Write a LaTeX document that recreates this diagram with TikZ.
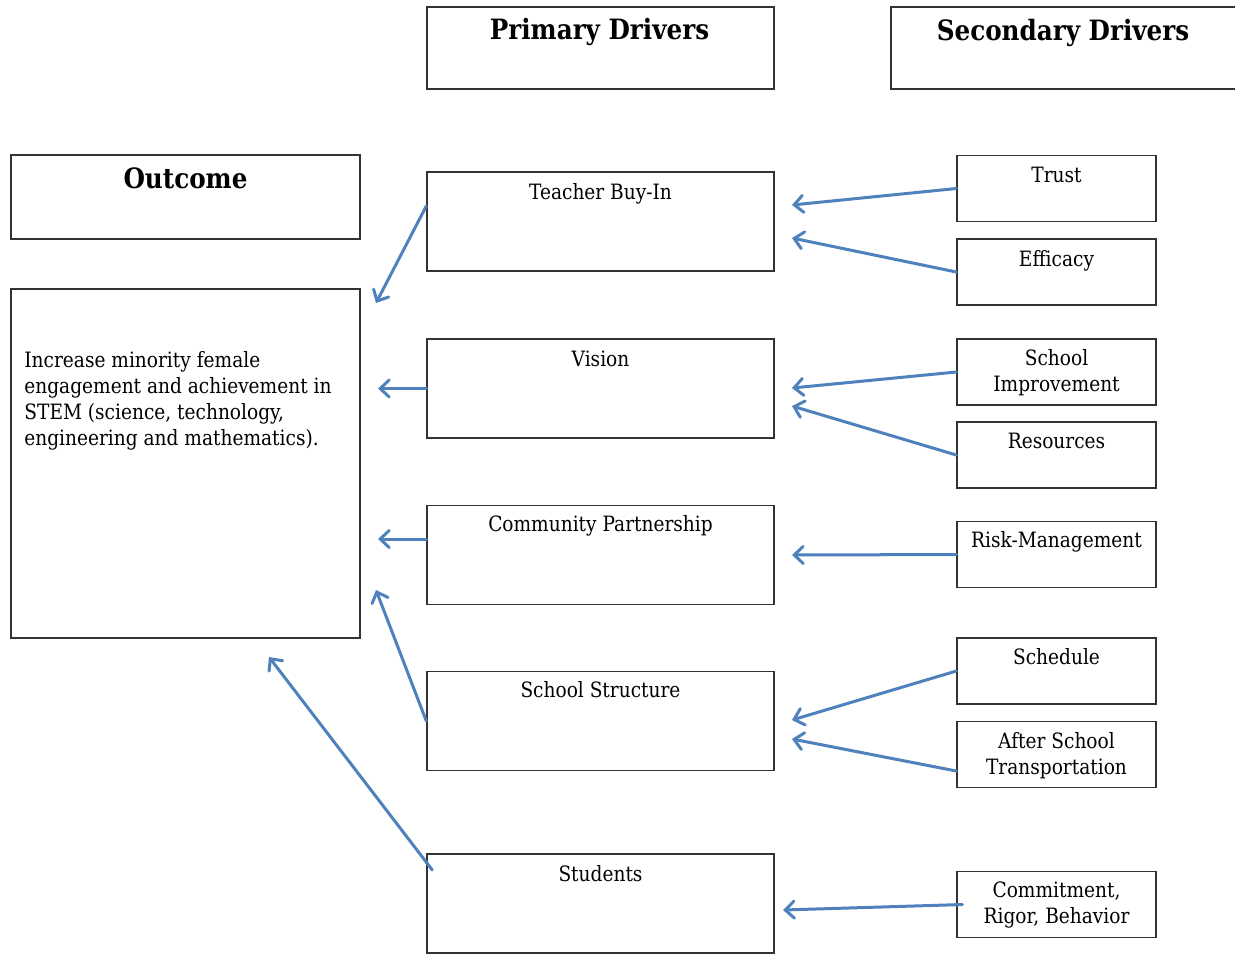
\documentclass[tikz,border=0pt]{standalone}
\usepackage{fontspec}
\setmainfont{DejaVu Serif}[FakeStretch=0.88]
\usetikzlibrary{arrows.meta,calc}
\definecolor{arrowblue}{HTML}{4F81BD}
\definecolor{boxline}{HTML}{333333}
\begin{document}
\begin{tikzpicture}[x=0.5pt,y=-0.5pt,
  box/.style={draw=boxline, line width=0.7pt, inner sep=0pt},
  pbox/.style={box, minimum width=173.5pt, minimum height=49.5pt},
  sbox/.style={box, minimum width=99.5pt, minimum height=33pt},
  txt/.style={inner sep=0pt, align=center, font=\fontsize{10.55}{13}\selectfont},
  head/.style={inner sep=0pt, font=\fontsize{14}{16}\selectfont\bfseries},
  arr/.style={draw=arrowblue, line width=1.5pt, line cap=round, -{Straight Barb[length=4.5pt,width=8.5pt,line cap=round]}}]
\useasboundingbox (0,0) rectangle (1235,955);
% headers
\node[box, minimum width=173.5pt, minimum height=41pt] (ph) at (600.5,48) {};
\node[box, minimum width=174.5pt, minimum height=41pt] (sh) at (1065.5,48) {};
\node[box, minimum width=174.5pt, minimum height=42pt] (oh) at (185.5,197) {};
\node[head, anchor=base] (pht) at ($(ph.north)+(-1,33)$) {Primary Drivers};
\node[head, anchor=base] (sht) at ($(1063,7)+(0,33)$) {Secondary Drivers};
\node[head, anchor=base] (oht) at ($(oh.north)+(0,34)$) {Outcome};
% outcome
\node[box, minimum width=174.5pt, minimum height=174.5pt] (ob) at (185.5,463.5) {};
\node[txt, align=left, anchor=base west] (obt) at (24,445) {Increase minority female\\engagement and achievement in\\STEM (science, technology,\\engineering and mathematics).};
% primary drivers
\node[pbox] (tb) at (600.5,221.5) {};
\node[pbox] (vi) at (600.5,388.5) {};
\node[pbox] (cp) at (600.5,555) {};
\node[pbox] (ss) at (600.5,721) {};
\node[pbox] (st) at (600.5,903.5) {};
\node[txt, anchor=base] at ($(tb.north)+(0,28)$) {Teacher Buy-In};
\node[txt, anchor=base] at ($(vi.north)+(0,28)$) {Vision};
\node[txt, anchor=base] at ($(cp.north)+(0,27)$) {Community Partnership};
\node[txt, anchor=base] at ($(ss.north)+(0,27)$) {School Structure};
\node[txt, anchor=base] at ($(st.north)+(0,28)$) {Students};
% secondary drivers
\node[sbox] (tr) at (1056.5,188.5) {};
\node[sbox] (ef) at (1056.5,272) {};
\node[sbox] (si) at (1056.5,372) {};
\node[sbox] (rs) at (1056.5,455) {};
\node[sbox] (rm) at (1056.5,554.5) {};
\node[sbox] (sc) at (1056.5,671) {};
\node[sbox] (ast) at (1056.5,754.5) {};
\node[sbox] (cr) at (1056.5,904.5) {};
\node[txt, anchor=base] at ($(tr.north)+(0,28)$) {Trust};
\node[txt, anchor=base] at ($(ef.north)+(0,28)$) {Efficacy};
\node[txt, anchor=base] at ($(si.north)+(0,53)$) {School\\Improvement};
\node[txt, anchor=base] at ($(rs.north)+(0,27)$) {Resources};
\node[txt, anchor=base] at ($(rm.north)+(0,27)$) {Risk-Management};
\node[txt, anchor=base] at ($(sc.north)+(0,27)$) {Schedule};
\node[txt, anchor=base] at ($(ast.north)+(0,54)$) {After School\\Transportation};
\node[txt, anchor=base] at ($(cr.north)+(0,53)$) {Commitment,\\Rigor, Behavior};
% arrow ends
\coordinate (e1) at (376,303);
\coordinate (e2) at (378,388.5);
\coordinate (e3) at (378,539);
\coordinate (e4) at (376,590);
\coordinate (e5) at (269,657);
\coordinate (e6) at (792,205);
\coordinate (e7) at (792,238);
\coordinate (e8) at (792,388);
\coordinate (e9) at (792,406);
\coordinate (e10) at (792,555);
\coordinate (e11) at (792,720);
\coordinate (e12) at (792,739);
\coordinate (e13) at (783,910);
% arrows to outcome
\draw[arr] ($(tb.west)+(0,-15.5)$) -- (e1);
\draw[arr] (vi.west) -- (e2);
\draw[arr] ($(cp.west)+(0,-16)$) -- (e3);
\draw[arr] (ss.west) -- (e4);
\draw[arr] ($(st.west)+(6,-33.5)$) -- (e5);
% arrows to primary drivers
\draw[arr] (tr.west) -- (e6);
\draw[arr] (ef.west) -- (e7);
\draw[arr] (si.west) -- (e8);
\draw[arr] (rs.west) -- (e9);
\draw[arr] (rm.west) -- (e10);
\draw[arr] (sc.west) -- (e11);
\draw[arr] ($(ast.west)+(0,16.5)$) -- (e12);
\draw[arr] ($(cr.west)+(6,0)$) -- (e13);
\end{tikzpicture}
\end{document}
